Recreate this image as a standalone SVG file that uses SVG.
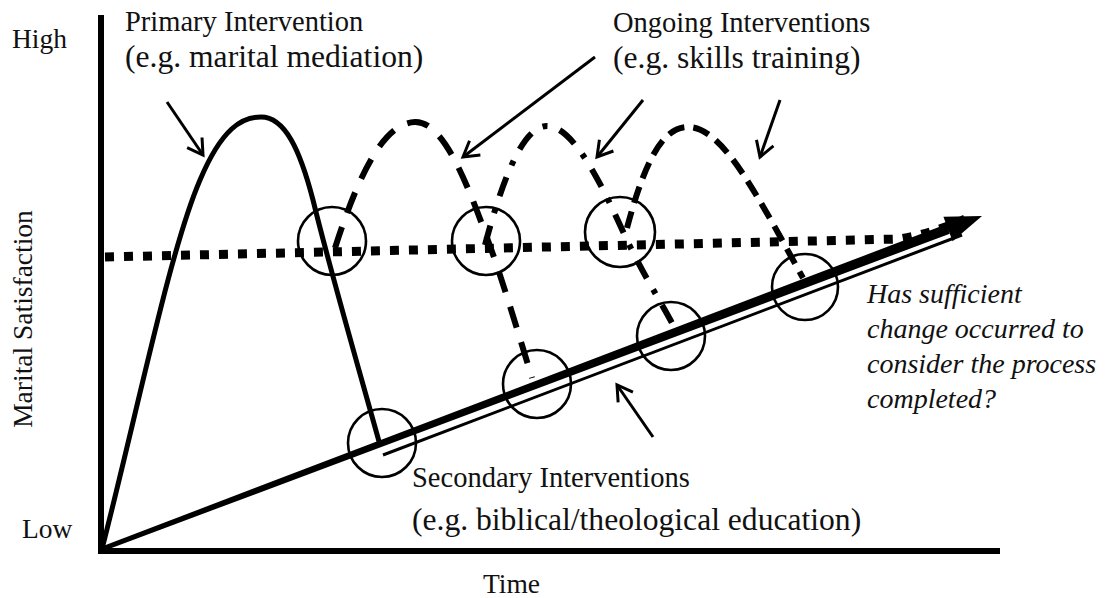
<svg xmlns="http://www.w3.org/2000/svg" width="1107" height="598" viewBox="0 0 1107 598">
<style>
text{font-family:"Liberation Serif","Times New Roman",serif;fill:#111}
.ax{font-size:27.5px}
.lab{font-size:28.5px}
.par{font-size:31.6px}
.it{font-size:28px;font-style:italic}
.axis{stroke:#000;stroke-width:6;fill:none}
.ring{stroke:#000;stroke-width:2.6;fill:none}
.dash1{stroke:#000;stroke-width:6;fill:none;stroke-dasharray:22 15}
.dash3{stroke:#000;stroke-width:6;fill:none;stroke-dasharray:17 9}
.dashdot{stroke:#000;stroke-width:6;fill:none;stroke-dasharray:20 13 5 13}
.ptr{stroke:#000;stroke-width:3;fill:none;marker-end:url(#vh)}
</style>
<defs>
<marker id="vh" markerUnits="userSpaceOnUse" markerWidth="30" markerHeight="30" refX="0" refY="0" viewBox="-20 -15 30 30" orient="auto" overflow="visible">
<path d="M-15,-9 L0,0 L-15,9" fill="none" stroke="#000" stroke-width="3"/>
</marker>
</defs>
<rect width="1107" height="598" fill="#fff"/>
<g id="axes">
<path class="axis" d="M101,15 L101,551 L1000,551"/>
</g>
<g id="connectors">
<path d="M105,257 L900,239 Q935,233 965,219" stroke="#000" stroke-width="9" fill="none" stroke-dasharray="9 10"/>
<polygon points="101.1,546.7 102.9,551.3 949.8,233.7 946.2,224.3" fill="#000"/>
<polygon points="982,216 943.4,216.8 952.6,241.2" fill="#000"/>
<line x1="383" y1="455" x2="962" y2="235" stroke="#000" stroke-width="3"/>
<path d="M102,549 C140,400 170,250 200,180 C222,128 242,117 261,117 C285,117 300,150 313,200 C330,270 362,380 380,445" stroke="#000" stroke-width="5" fill="none"/>
<path class="dash1" d="M335,248 C360,170 385,123 415,122 C445,121 470,190 495,260 C510,305 522,345 532,378"/>
<path class="dashdot" d="M485,245 C505,170 525,126 547,126 C570,126 595,170 620,225 C640,270 660,300 673,325"/>
<path class="dash3" d="M627,228 C645,160 663,127 688,127 C712,127 735,160 755,193 C775,226 790,255 803,278"/>
<line class="ptr" x1="167" y1="102" x2="203" y2="155"/>
<line class="ptr" x1="595" y1="57" x2="463" y2="157"/>
<line class="ptr" x1="643" y1="100" x2="597" y2="157"/>
<line class="ptr" x1="780" y1="100" x2="760" y2="157"/>
<line class="ptr" x1="653" y1="437" x2="617" y2="385"/>
</g>
<g id="circles">
<circle id="c1" class="ring" cx="332" cy="241" r="34"/>
<circle id="c2" class="ring" cx="486" cy="241" r="34"/>
<circle id="c3" class="ring" cx="537" cy="384" r="34"/>
<circle id="c4" class="ring" cx="620" cy="232" r="35"/>
<circle id="c5" class="ring" cx="671" cy="336" r="34"/>
<circle id="c6" class="ring" cx="805" cy="287" r="33"/>
<circle id="c7" class="ring" cx="382" cy="443" r="34"/>
</g>
<g id="axis-labels">
<text class="ax" x="12" y="48">High</text>
<text class="ax" x="22" y="538">Low</text>
<text class="ax" x="483" y="593">Time</text>
<text class="ax" text-anchor="middle" transform="translate(32,319) rotate(-90)">Marital Satisfaction</text>
</g>
<g id="primary-label">
<text class="lab" x="125" y="31">Primary Intervention</text>
<text class="par" x="125" y="67">(e.g. marital mediation)</text>
</g>
<g id="ongoing-label">
<text class="lab" x="613" y="32">Ongoing Interventions</text>
<text class="par" x="613" y="68">(e.g. skills training)</text>
</g>
<g id="secondary-label">
<text class="lab" x="412" y="487">Secondary Interventions</text>
<text class="par" x="412" y="530">(e.g. biblical/theological education)</text>
</g>
<g id="question-label">
<text class="it" x="867" y="303">Has sufficient</text>
<text class="it" x="867" y="338">change occurred to</text>
<text class="it" x="867" y="373">consider the process</text>
<text class="it" x="867" y="408">completed?</text>
</g>
</svg>
